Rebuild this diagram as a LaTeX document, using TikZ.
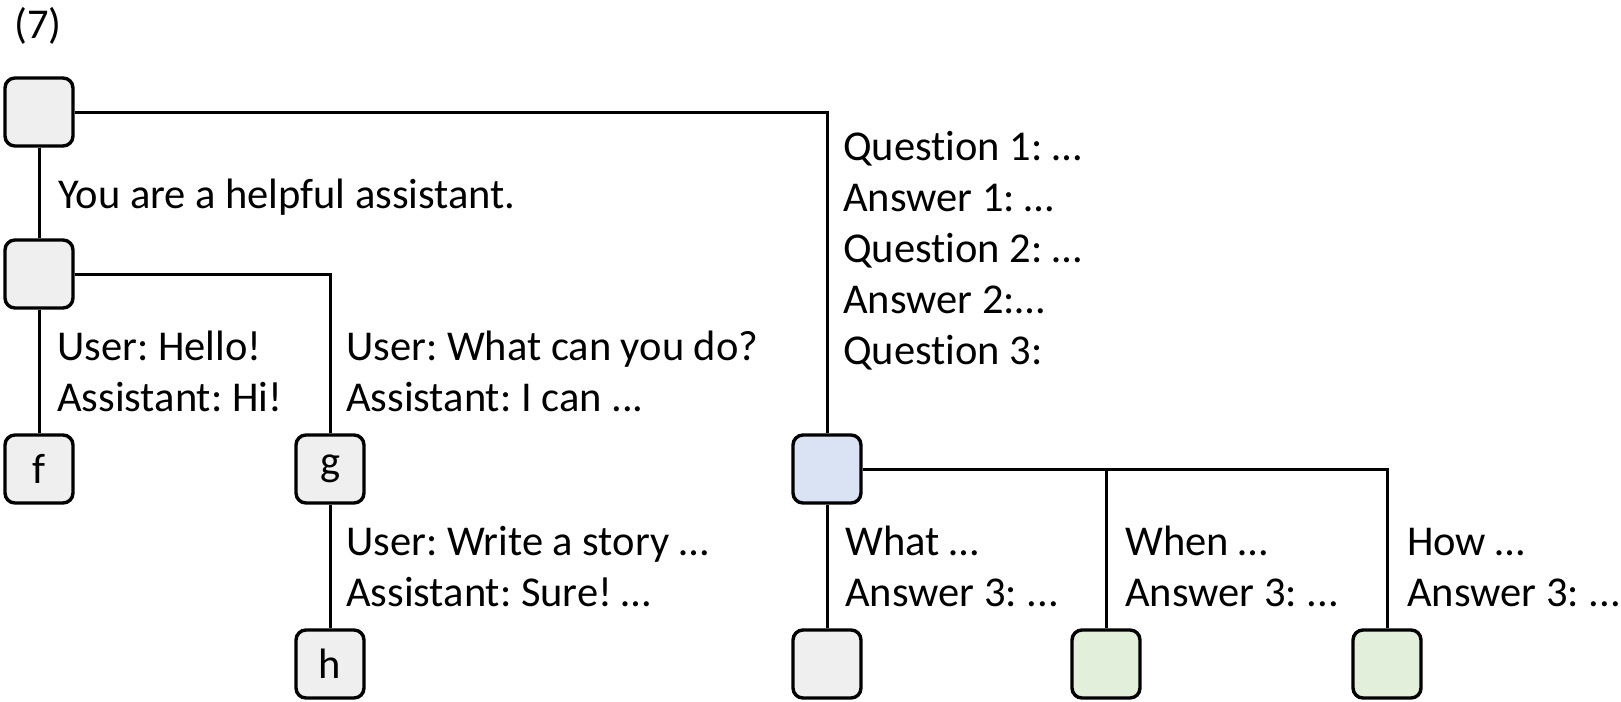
\documentclass[tikz,border=0pt]{standalone}
\usepackage{fontspec}
\setmainfont{Carlito}[Ligatures=NoCommon]
\frenchspacing
\definecolor{boxgray}{HTML}{EFEFEF}
\definecolor{boxblue}{HTML}{DAE3F3}
\definecolor{boxgreen}{HTML}{E2EFDA}
\begin{document}
\begin{tikzpicture}[x=1pt,y=-1pt,
  every node/.style={font=\fontsize{42.5}{51}\selectfont},
  tok/.style={draw=black, line width=3.4pt, rounded corners=10pt, fill=boxgray,
    minimum width=68pt, minimum height=68pt, inner sep=0pt},
  tokblue/.style={tok, fill=boxblue},
  tokgreen/.style={tok, fill=boxgreen},
  link/.style={draw=black, line width=3pt},
  lbl/.style={anchor=base west, inner sep=0pt}]
\useasboundingbox (0,0) rectangle (1621,701);

% title
\node[lbl] (title) at (14,38) {(7)};

% token nodes
\node[tok] (root) at (39,112) {};
\node[tok] (sys) at (39,274) {};
\node[tok] (f) at (39,469) {f};
\node[tok] (g) at (330,469) {g};
\node[tok] (h) at (330,664) {h};
\node[tokblue] (q) at (827,469) {};
\node[tok] (a1) at (827,664) {};
\node[tokgreen] (a2) at (1106,664) {};
\node[tokgreen] (a3) at (1387,664) {};

% connectors
\draw[link] (root.south) -- (sys.north);
\draw[link] (root.east) -| (q.north);
\draw[link] (sys.south) -- (f.north);
\draw[link] (sys.east) -| (g.north);
\draw[link] (g.south) -- (h.north);
\draw[link] (q.south) -- (a1.north);
\draw[link] (q.east) -| (a3.north);
\draw[link] (a2.north) -- (a2.north |- q.east);

% edge texts
\node[lbl] (sysA) at (58,208) {You are a helpful assistant.};

\node[lbl] (fA) at (57,360) {User: Hello!};
\node[lbl] (fB) at (57,411) {Assistant: Hi!};

\node[lbl] (gA) at (346,360) {User: What can you do?};
\node[lbl] (gB) at (346,411) {Assistant: I can ...};

\node[lbl] (hA) at (346,555) {User: Write a story …};
\node[lbl] (hB) at (346,606) {Assistant: Sure! …};

\node[lbl] (qA) at (843,160) {Question 1: …};
\node[lbl] (qB) at (843,211) {Answer 1: …};
\node[lbl] (qC) at (843,262) {Question 2: …};
\node[lbl] (qD) at (843,313) {Answer 2:…};
\node[lbl] (qE) at (843,364) {Question 3:};

\node[lbl] (a1A) at (845,555) {What …};
\node[lbl] (a1B) at (845,606) {Answer 3: ...};
\node[lbl] (a2A) at (1125,555) {When …};
\node[lbl] (a2B) at (1125,606) {Answer 3: ...};
\node[lbl] (a3A) at (1407,555) {How …};
\node[lbl] (a3B) at (1407,606) {Answer 3: ...};
\end{tikzpicture}
\end{document}
